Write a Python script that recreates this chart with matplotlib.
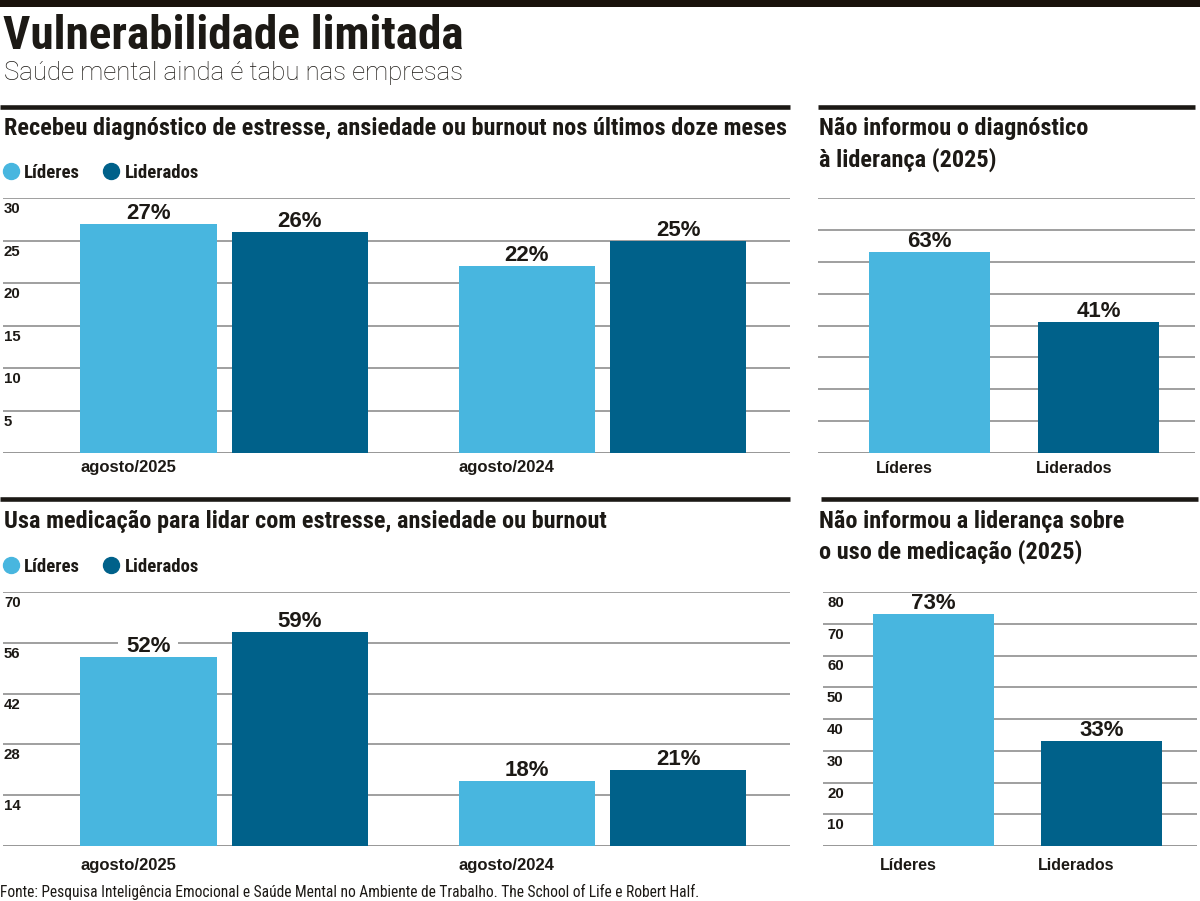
import matplotlib
matplotlib.use('Agg')
import matplotlib.pyplot as plt
from matplotlib.lines import Line2D
from matplotlib.transforms import blended_transform_factory, offset_copy
import numpy as np

W, H = 1200, 901

# data
periods = ['agosto/2025', 'agosto/2024']
groups = ['Líderes', 'Liderados']
diag_lideres = [27, 22]
diag_liderados = [26, 25]
med_lideres = [52, 18]
med_liderados = [59, 21]
nao_informou_diag = [63, 41]
nao_informou_med = [73, 33]

diag_ticks = [5, 10, 15, 20, 25, 30]
med_ticks = [14, 28, 42, 56, 70]
single_ticks = [10, 20, 30, 40, 50, 60, 70, 80]

LIGHT = '#48b6df'
DARK = '#00618a'
GRID = '#858585'
INK = '#1c1915'

COND = ['Roboto Condensed', 'Liberation Sans Narrow', 'DejaVu Sans']
REG = ['Liberation Sans', 'DejaVu Sans']

fig = plt.figure(figsize=(W / 100, H / 100), dpi=100)
fig.patch.set_facecolor('white')


def box(x0, y0, x1, y1):
    return [x0 / W, 1 - y1 / H, (x1 - x0) / W, (y1 - y0) / H]


def rule(x0, x1, y, lw):
    fig.add_artist(Line2D([x0 / W, x1 / W], [1 - y / H, 1 - y / H],
                          transform=fig.transFigure, color=INK, lw=lw,
                          solid_capstyle='butt'))


def ftext(x, y, s, **kw):
    fig.text(x / W, 1 - y / H, s, va='baseline', ha='left', color=INK, **kw)


def grid_and_ticks(ax, ticks, show_labels, xoff):
    ax.axhline(0, color=GRID, lw=1.2, zorder=1)
    for t in ticks:
        ax.axhline(t, color=GRID, lw=1.1, zorder=1)
        if show_labels:
            tr = blended_transform_factory(ax.transAxes, ax.transData)
            tr = offset_copy(tr, fig=fig, x=xoff, y=-15, units='dots')
            ax.text(0, t, str(t), transform=tr, va='baseline', ha='left',
                    fontsize=10.8, fontweight='bold', family=REG, color=INK)


def value_labels(ax, xs, vals, ticks):
    # units per pixel, to know if a gridline runs through the label
    ymax = ax.get_ylim()[1]
    upp = ymax / (ax.get_position().height * H)
    for x, v in zip(xs, vals):
        crossed = any(v + 5 * upp < t < v + 21 * upp for t in ticks)
        bb = dict(boxstyle='square,pad=0.35', fc='white', ec='none') if crossed else None
        ax.annotate(f'{v}%', (x, v), xytext=(0, 5), textcoords='offset pixels',
                    ha='center', va='baseline', fontsize=16, fontweight='bold',
                    family=REG, color=INK, zorder=2, bbox=bb)


def pair_chart(ax, a, b, ymax, ticks, cat_drop):
    x = np.arange(len(periods))
    w, off = 0.36, 0.2
    ax.set_xlim(-0.584, 1.495)
    ax.set_ylim(0, ymax)
    grid_and_ticks(ax, ticks, True, 1)
    ax.bar(x - off, a, w, color=LIGHT, zorder=3)
    ax.bar(x + off, b, w, color=DARK, zorder=3)
    value_labels(ax, x - off, a, ticks)
    value_labels(ax, x + off, b, ticks)
    tr = offset_copy(ax.transData, fig=fig, x=0, y=-cat_drop, units='dots')
    for xi, p in zip(x, periods):
        ax.text(xi - off - w / 2, 0, p, transform=tr, ha='left', va='baseline',
                fontsize=12, fontweight='bold', family=REG, color=INK)
    ax.axis('off')


def single_chart(ax, vals, ticks, show_labels, cat_drop):
    x = np.arange(len(groups))
    ax.set_xlim(-0.66, 1.57)
    ax.set_ylim(0, 80)
    grid_and_ticks(ax, ticks, show_labels, 4)
    ax.bar(x, vals, 0.72, color=[LIGHT, DARK], zorder=3)
    value_labels(ax, x, vals, ticks)
    tr = offset_copy(ax.transData, fig=fig, x=-25, y=-cat_drop, units='dots')
    for xi, g in zip(x, groups):
        ax.text(xi, 0, g, transform=tr, ha='center', va='baseline',
                fontsize=11.5, fontweight='bold', family=REG, color=INK)
    ax.axis('off')


def legend(y):
    handles = [Line2D([], [], marker='o', ls='', color=c, markersize=11.5, label=g)
               for c, g in zip([LIGHT, DARK], groups)]
    fig.legend(handles=handles, loc='center left', bbox_to_anchor=(3 / W, 1 - y / H),
               ncol=2, frameon=False, handlelength=0.8, handletextpad=0.3,
               columnspacing=1.3, borderaxespad=0, borderpad=0,
               prop=dict(family=COND, weight='bold', size=13.5), labelcolor=INK)


# header
fig.add_artist(plt.Rectangle((0, 1 - 7 / H), 1, 7 / H, transform=fig.transFigure,
                             color='#1a120b', lw=0))
ftext(3, 49, 'Vulnerabilidade limitada', fontsize=34, fontweight='black', family=COND)
ftext(4, 80, 'Saúde mental ainda é tabu nas empresas', fontsize=18.5,
      fontweight='light', family=['Roboto', 'DejaVu Sans'])

# top row
rule(0, 790, 106.5, 3.3)
rule(818, 1195, 106.5, 3.3)
ftext(4, 135, 'Recebeu diagnóstico de estresse, ansiedade ou burnout nos últimos doze meses',
      fontsize=17.5, fontweight='bold', family=COND)
ftext(819, 135, 'Não informou o diagnóstico', fontsize=17.5, fontweight='bold', family=COND)
ftext(819, 167, 'à liderança (2025)', fontsize=17.5, fontweight='bold', family=COND)
legend(173)

ax1 = fig.add_axes(box(3, 198, 790, 453))
pair_chart(ax1, diag_lideres, diag_liderados, 30, diag_ticks, 19)

ax2 = fig.add_axes(box(818, 198, 1195, 453))
single_chart(ax2, nao_informou_diag, single_ticks, False, 20)

# bottom row
rule(0, 790, 499, 3.3)
rule(821, 1198, 499, 3.3)
ftext(4, 528, 'Usa medicação para lidar com estresse, ansiedade ou burnout',
      fontsize=17.5, fontweight='bold', family=COND)
ftext(819, 528, 'Não informou a liderança sobre', fontsize=17.5, fontweight='bold', family=COND)
ftext(819, 559, 'o uso de medicação (2025)', fontsize=17.5, fontweight='bold', family=COND)
legend(567)

ax3 = fig.add_axes(box(3, 592, 790, 846))
pair_chart(ax3, med_lideres, med_liderados, 70, med_ticks, 24)

ax4 = fig.add_axes(box(823, 592, 1197, 846))
single_chart(ax4, nao_informou_med, single_ticks, True, 24)

ftext(0, 897, 'Fonte: Pesquisa Inteligência Emocional e Saúde Mental no Ambiente de Trabalho. '
      'The School of Life e Robert Half.', fontsize=11.2, family=COND)

fig.savefig('out.png', dpi=100)
